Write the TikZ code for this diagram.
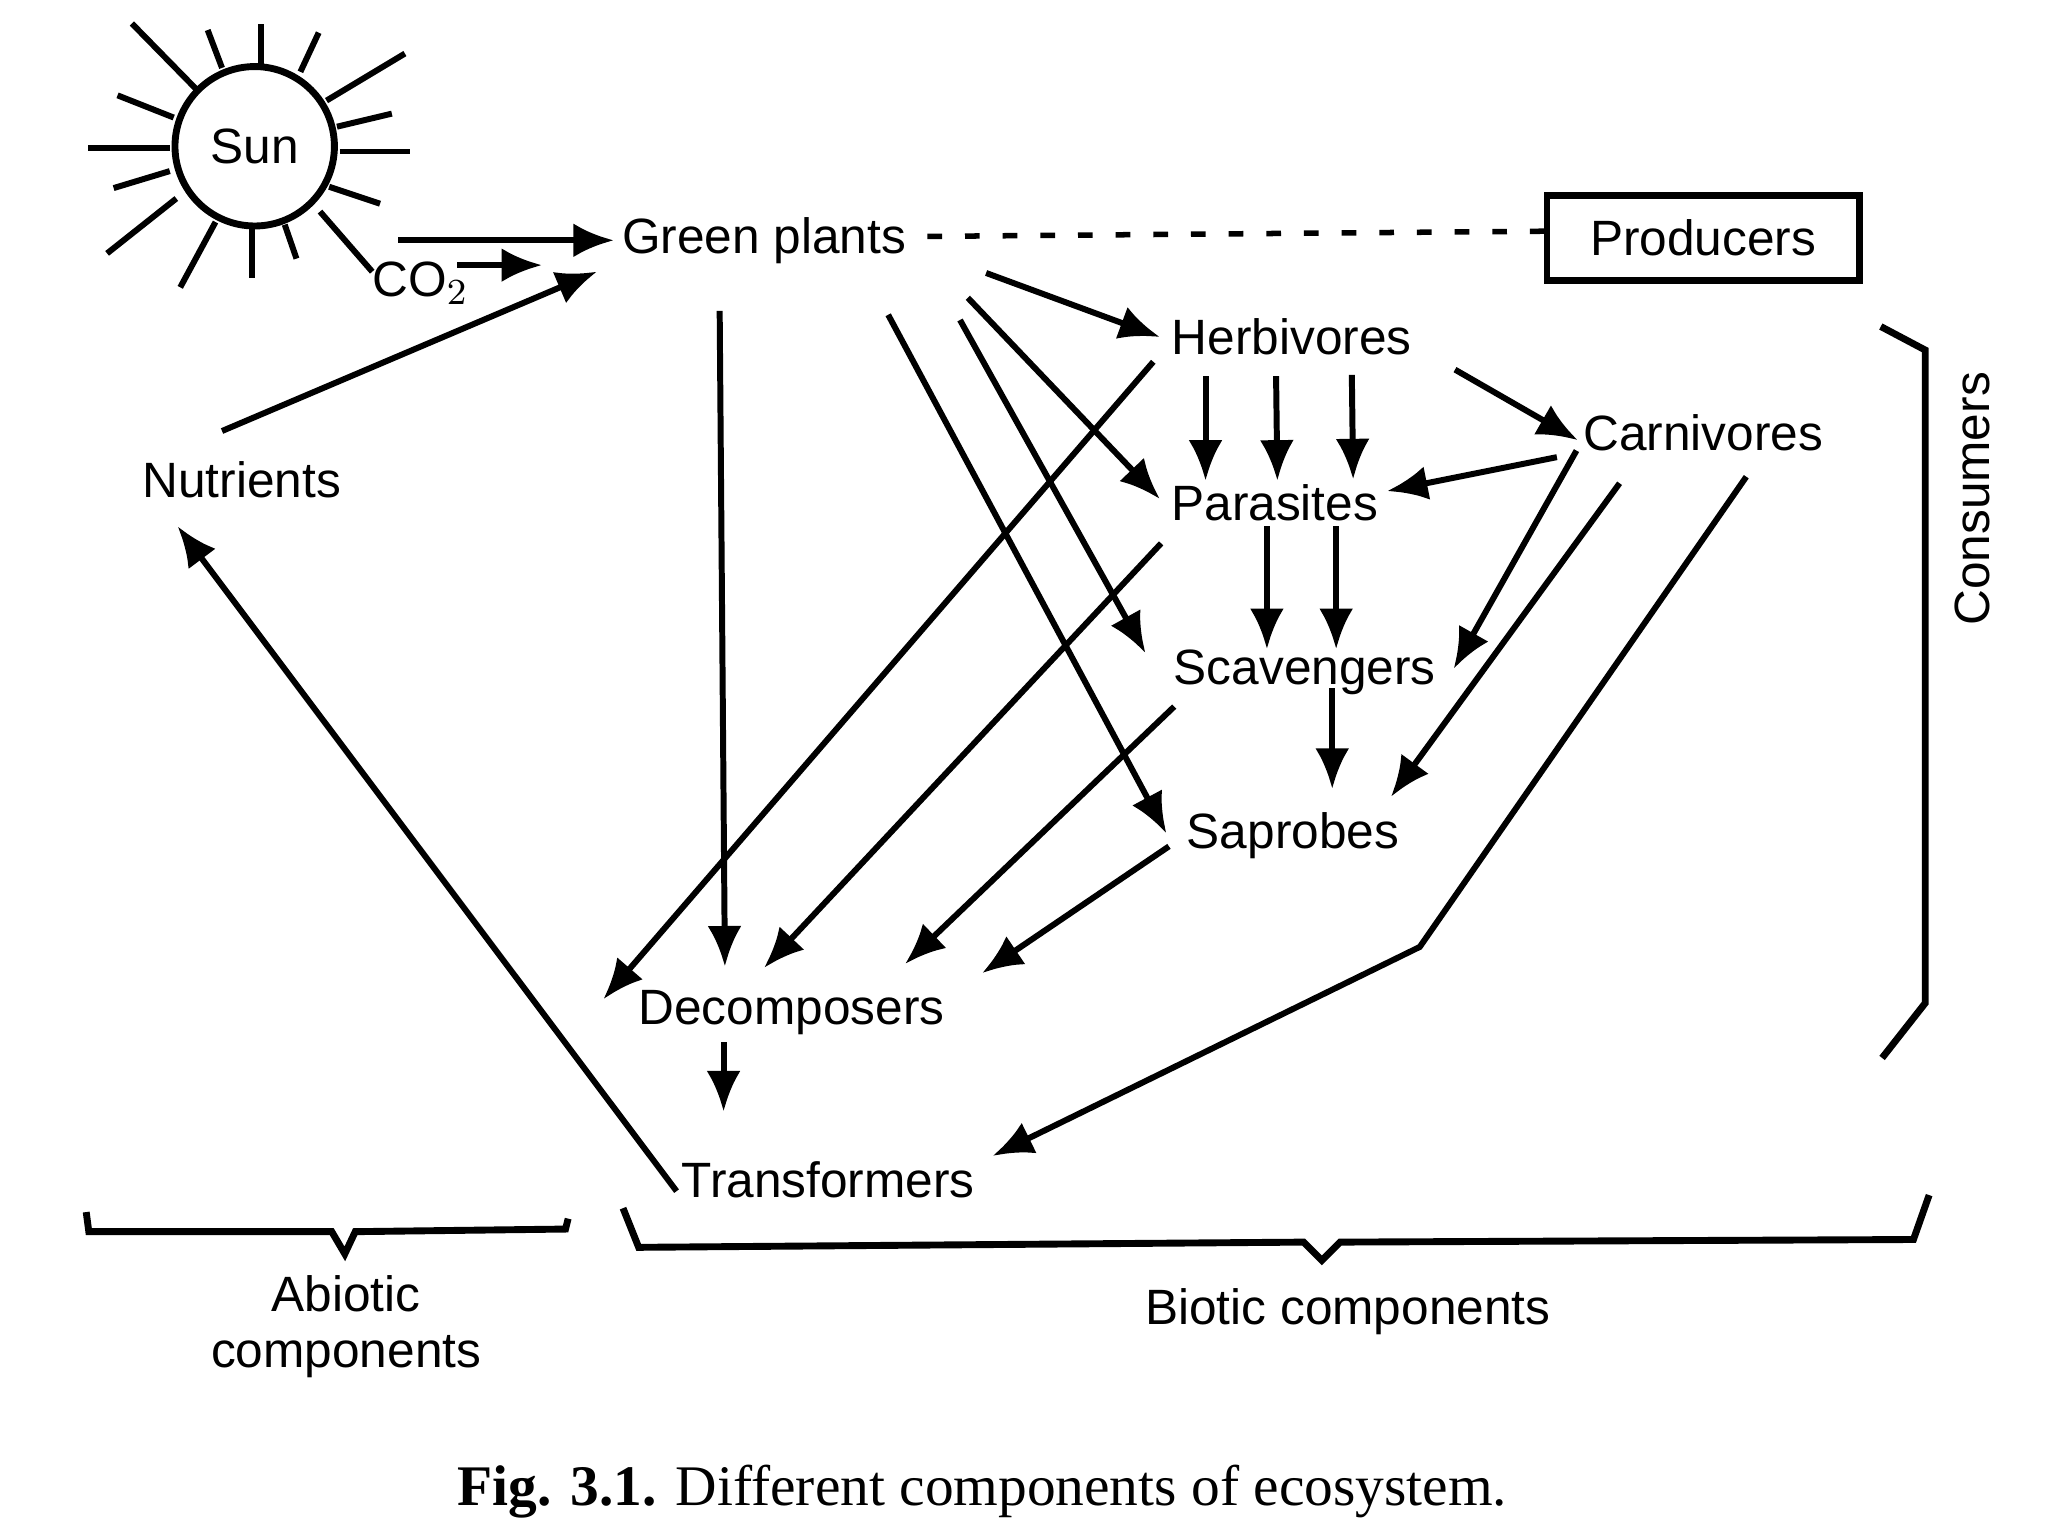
\documentclass[tikz,border=0pt]{standalone}
\usepackage{fontspec}
\setmainfont{Liberation Sans}
\newfontfamily\capfont{Liberation Serif}
\usetikzlibrary{arrows.meta, positioning}
\tikzset{
  lbl/.style={font=\fontsize{10.8}{12.2}\selectfont, inner sep=0pt, text depth=0pt},
  arr/.style={-{Latex[length=3.1mm,width=2.6mm]}, line width=1.3pt, black},
  darr/.style={line width=1.2pt, dash pattern=on 3.2pt off 5pt, black},
  ray/.style={line width=1.3pt, black},
  bracket/.style={line width=1.5pt, black, line join=miter},
}
\begin{document}
\begin{tikzpicture}[x=0.01cm, y=-0.01cm]
  \useasboundingbox (0,0) rectangle (1568,1176);
  % sun
  \node[draw, circle, line width=1.5pt, minimum size=1.22cm, lbl] (sun) at (195,112) {Sun};
  \foreach \xa/\ya/\xb/\yb in {150/68/101/18, 170/52/159/23, 200/50/200/18, 230/55/244/25,
      250/77/310/41, 258/97/300/87, 260/116/314/116, 252/143/291/156, 245/162/285/208,
      218/172/227/198, 193/174/193/213, 165/170/138/220, 135/152/82/194, 130/131/87/144,
      130/113/67/113, 133/90/90/73}
    \draw[ray] (\xa,\ya) -- (\xb,\yb);
  % labels
  \node[lbl] (green) at (585,180) {Green plants};
  \node[lbl] (co2) at (322,214) {CO$_2$};
  \node[lbl] (nutr) at (185,367) {Nutrients};
  \node[lbl] (herb) at (989,258) {Herbivores};
  \node[lbl] (para) at (976,385) {Parasites};
  \node[lbl] (scav) at (999,511) {Scavengers};
  \node[lbl] (sapr) at (990,636) {Saprobes};
  \node[lbl] (carn) at (1304,331) {Carnivores};
  \node[lbl] (decomp) at (606,771) {Decomposers};
  \node[lbl] (trans) at (634,903) {Transformers};
  \node[lbl, draw, line width=1.5pt, minimum width=2.39cm, minimum height=0.65cm] (prod) at (1304,182) {Producers};
  \node[lbl, rotate=90] (cons) at (1510,382) {Consumers};
  \node[lbl, align=center] (abio) at (265,1012) {Abiotic\\components};
  \node[lbl] (bio) at (1032,1000) {Biotic components};
  \node[inner sep=0pt, text depth=0pt, font=\capfont\fontsize{12.5}{14}\selectfont] (cap) at (752,1137)
    {\textbf{Fig. 3.1.} Different components of ecosystem.};
  % arrows into green plants
  \draw[arr] ([shift={(110,72)}]sun.center) -- ([shift={(-115,4)}]green.center);
  \draw[arr] ([shift={(28,-11)}]co2.center) -- ([shift={(-170,23)}]green.center);
  \draw[arr] ([shift={(-15,-37)}]nutr.center) -- ([shift={(-128,28)}]green.center);
  \draw[darr] ([shift={(125,1)}]green.center) -- ([shift={(-119,-5)}]prod.center);
  % out of green plants
  \draw[arr] ([shift={(-34,58)}]green.center) -- ([shift={(-51,-31)}]decomp.center);
  \draw[arr] ([shift={(95,61)}]green.center) -- ([shift={(-97,2)}]sapr.center);
  \draw[arr] ([shift={(150,65)}]green.center) -- ([shift={(-122,-11)}]scav.center);
  \draw[arr] ([shift={(156,48)}]green.center) -- ([shift={(-88,-3)}]para.center);
  \draw[arr] ([shift={(170,29)}]green.center) -- ([shift={(-101,0)}]herb.center);
  % herbivores
  \draw[arr] ([shift={(-106,19)}]herb.center) -- ([shift={(-144,-6)}]decomp.center);
  \draw[arr] ([shift={(-66,30)}]herb.center) -- ([shift={(-53,-17)}]para.center);
  \draw[arr] ([shift={(-12,30)}]herb.center) -- ([shift={(2,-17)}]para.center);
  \draw[arr] ([shift={(46,29)}]herb.center) -- ([shift={(60,-18)}]para.center);
  \draw[arr] ([shift={(125,25)}]herb.center) -- ([shift={(-96,6)}]carn.center);
  % carnivores
  \draw[arr] ([shift={(-112,19)}]carn.center) -- ([shift={(86,-9)}]para.center);
  \draw[arr] ([shift={(-97,14)}]carn.center) -- ([shift={(114,1)}]scav.center);
  \draw[arr] ([shift={(-64,39)}]carn.center) -- ([shift={(75,-26)}]sapr.center);
  \coordinate (bend) at (1087,725);
  \draw[arr] ([shift={(33,34)}]carn.center) -- (bend) -- ([shift={(126,-18)}]trans.center);
  % parasites, scavengers, saprobes
  \draw[arr] ([shift={(-6,18)}]para.center) -- ([shift={(-29,-14)}]scav.center);
  \draw[arr] ([shift={(47,18)}]para.center) -- ([shift={(24,-14)}]scav.center);
  \draw[arr] ([shift={(-87,31)}]para.center) -- ([shift={(-21,-30)}]decomp.center);
  \draw[arr] ([shift={(21,16)}]scav.center) -- ([shift={(30,-32)}]sapr.center);
  \draw[arr] ([shift={(-100,30)}]scav.center) -- ([shift={(87,-33)}]decomp.center);
  \draw[arr] ([shift={(-95,12)}]sapr.center) -- ([shift={(146,-26)}]decomp.center);
  % back to nutrients
  \draw[arr] ([shift={(-52,27)}]decomp.center) -- ([shift={(-80,-52)}]trans.center);
  \draw[arr] ([shift={(-116,9)}]trans.center) -- ([shift={(-49,36)}]nutr.center);
  % brackets
  \draw[bracket] (1440,250) -- (1474,268) -- (1474,768) -- (1441,810);
  \draw[bracket] (66,928) -- (68,943) -- (254,943) -- (264,960) -- (272,943) -- (433,941) -- (435,933);
  \draw[bracket] (477,925) -- (489,955) -- (998,951) -- (1012,965) -- (1026,951) -- (1465,949) -- (1477,915);
\end{tikzpicture}
\end{document}
